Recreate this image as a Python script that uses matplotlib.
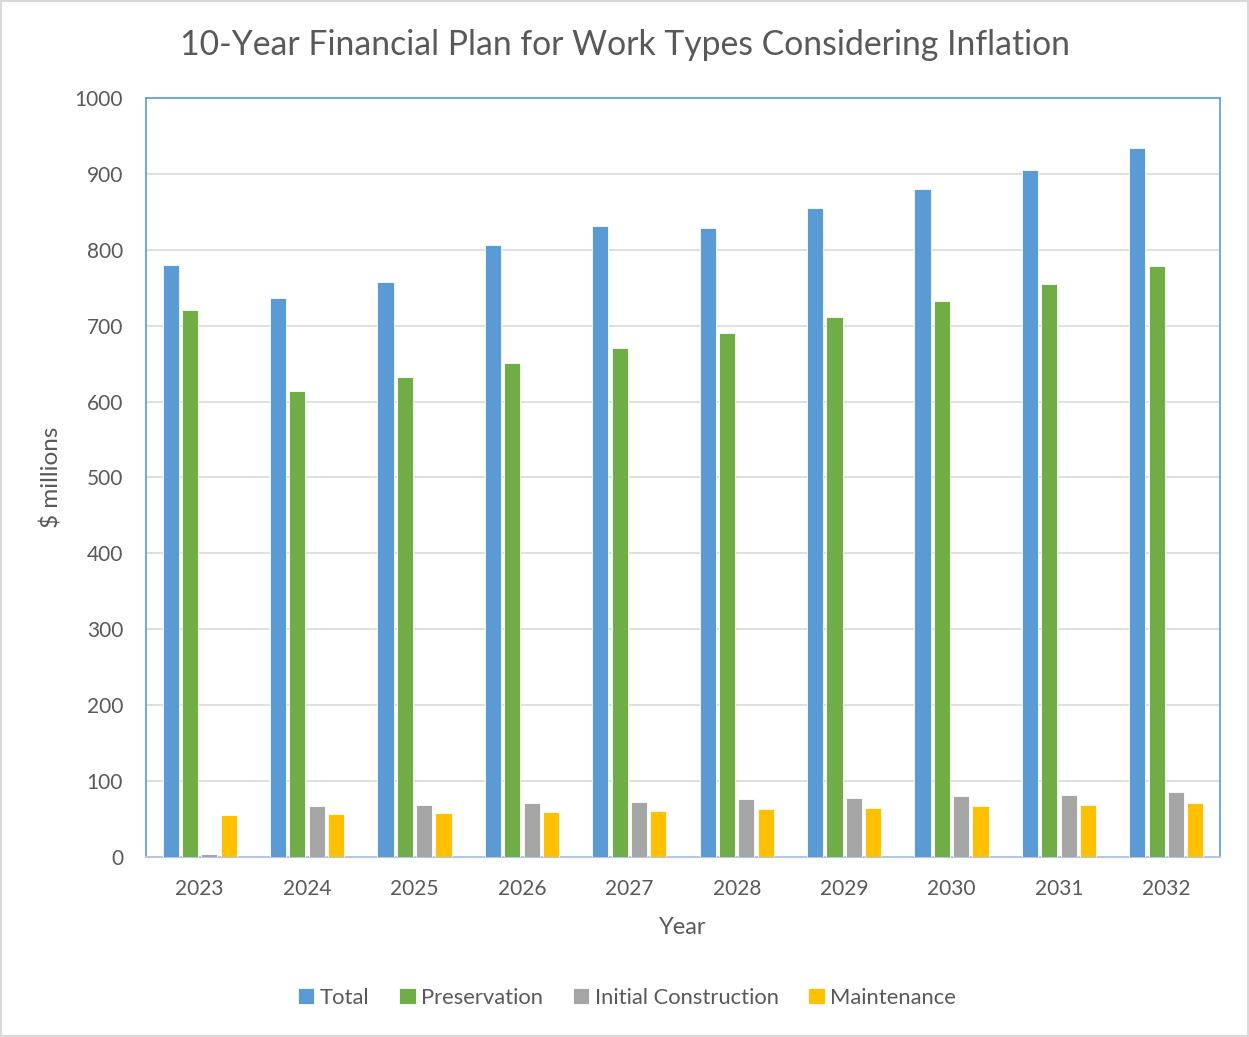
import matplotlib
matplotlib.use("Agg")
import matplotlib.pyplot as plt
import numpy as np

years = ["2023", "2024", "2025", "2026", "2027", "2028", "2029", "2030", "2031", "2032"]
total = [780, 736, 758, 806, 831, 829, 855, 880, 905, 934]
preservation = [721, 614, 632, 651, 671, 691, 712, 733, 755, 778]
initial_construction = [4, 67, 69, 71, 73, 76, 78, 80, 82, 85]
maintenance = [55, 56, 58, 59, 61, 63, 65, 67, 69, 71]

series = [("Total", total, "#5B9BD5"),
          ("Preservation", preservation, "#70AD47"),
          ("Initial Construction", initial_construction, "#A5A5A5"),
          ("Maintenance", maintenance, "#FFC000")]

plt.rcParams['font.family'] = ['Lato', 'DejaVu Sans']
txt = "#595959"

fig = plt.figure(figsize=(12.49, 10.37), dpi=100)
fig.patch.set_facecolor("white")
ax = fig.add_axes([0.1169, 0.1736, 0.8599, 0.7319])

x = np.arange(len(years))
slot = 0.18
width = 0.15
for i, (name, vals, col) in enumerate(series):
    ax.bar(x + (i - 1.5) * slot, vals, width, color=col, label=name,
           edgecolor="white", linewidth=0.6, zorder=3)

ax.set_xlim(-0.5, len(years) - 0.5)
ax.set_ylim(0, 1000)
ax.set_yticks(range(0, 1001, 100))
ax.set_xticks(x)
ax.set_xticklabels(years)
ax.tick_params(axis='both', length=0, labelsize=15, colors=txt)
ax.tick_params(axis='x', pad=16)
ax.tick_params(axis='y', pad=16.5)
ax.grid(axis='y', color="#D9D9D9", linewidth=1.2, zorder=0)
for s in ['left', 'top', 'right']:
    ax.spines[s].set_color("#5B9BD5")
    ax.spines[s].set_linewidth(1.2)
ax.spines['bottom'].set_color("#B4C7E7")
ax.spines['bottom'].set_linewidth(1.5)

ax.set_xlabel("Year", fontsize=17, color=txt, labelpad=13)
ax.set_ylabel("$ millions", fontsize=17.5, color=txt, labelpad=9)
fig.text(0.5, 0.957, "10-Year Financial Plan for Work Types Considering Inflation",
         ha='center', va='center', fontsize=24.3, color=txt)

leg = fig.legend(loc='center', bbox_to_anchor=(0.502, 0.038), ncol=4, frameon=False,
                 fontsize=15.8, handlelength=0.75, handleheight=0.75, handletextpad=0.25,
                 columnspacing=1.35)
for t in leg.get_texts():
    t.set_color(txt)

border = plt.Rectangle((0.001, 0.001), 0.998, 0.998, transform=fig.transFigure,
                       fill=False, edgecolor="#D9D9D9", linewidth=1.5)
fig.patches.append(border)

fig.savefig("out.png", dpi=100)
